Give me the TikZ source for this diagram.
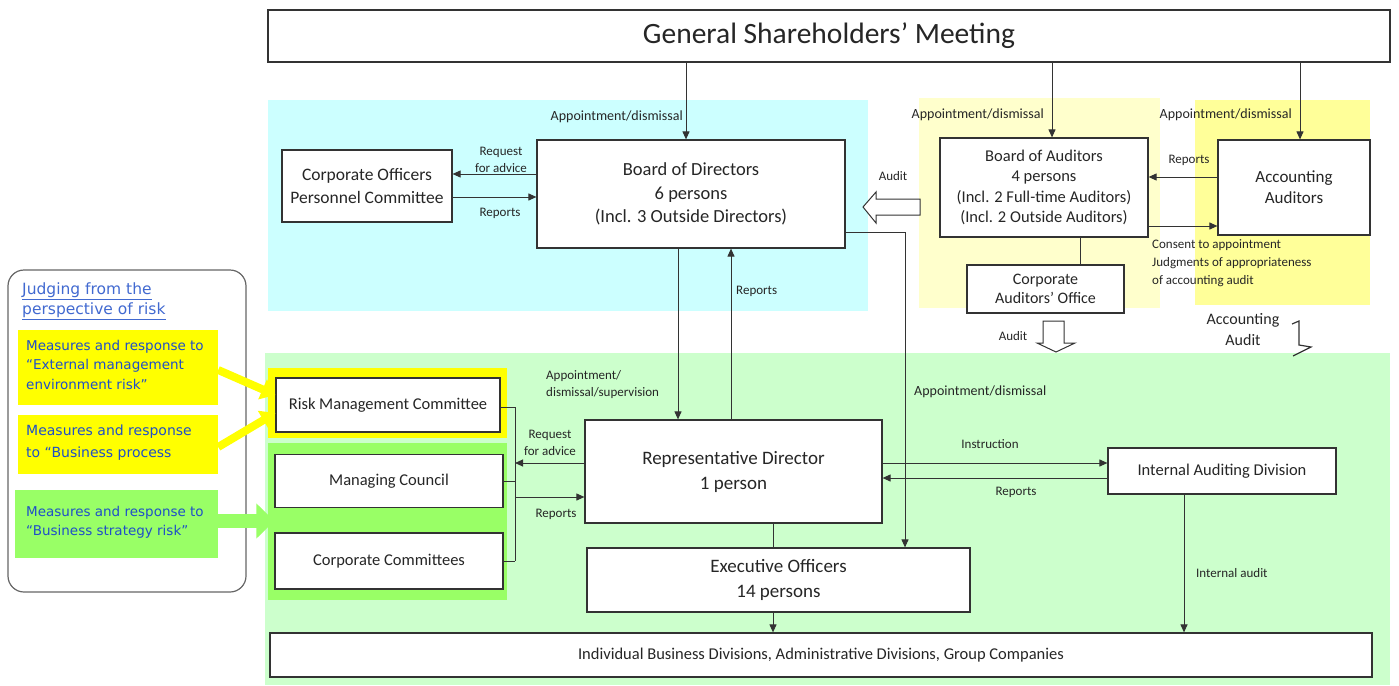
\documentclass[tikz,border=0pt]{standalone}
\usepackage{fontspec}
\setmainfont{Carlito}
\newfontfamily\riskfont{DejaVu Sans}
\usetikzlibrary{arrows.meta,calc}
\definecolor{cyanbg}{HTML}{CCFFFF}
\definecolor{ylight}{HTML}{FFFFCC}
\definecolor{ystrong}{HTML}{FFFF99}
\definecolor{greenbg}{HTML}{CCFFCC}
\definecolor{yhl}{HTML}{FFFF00}
\definecolor{ghl}{HTML}{99FF66}
\definecolor{bluetxt}{HTML}{1F4FC8}
\definecolor{linecol}{HTML}{333333}
\newcommand\fsz[2]{\fontsize{#1}{#2}\selectfont}
\tikzset{
  box/.style={draw=linecol, fill=white, line width=1.2pt, align=center, inner sep=0pt, text=black!85},
  arr/.style={draw=linecol, line width=1pt, -{Triangle[length=8pt,width=7pt]}},
  ln/.style={draw=linecol, line width=1pt},
  lbl/.style={font=\fsz{13}{17}, text=black!85, inner sep=0pt, align=center},
  biglbl/.style={font=\fsz{14}{17}, text=black!85, inner sep=0pt, align=center},
  riskbox/.style={inner sep=0pt, text=bluetxt, font=\riskfont\fsz{13.5}{19.5}, align=left, anchor=north west},
  hollow/.style={draw=linecol, line width=1pt, fill=white},
}
\begin{document}
\begin{tikzpicture}[x=1pt,y=-1pt]
\useasboundingbox (0,0) rectangle (1399,685);
% background regions
\fill[cyanbg] (268,100) rectangle (868,311);
\fill[ylight] (919,98) rectangle (1160,308);
\fill[ystrong] (1195,100) rectangle (1370,305);
\fill[greenbg] (265,353) rectangle (1390,685);
\fill[yhl] (268,368) rectangle (507,438);
\fill[ghl] (268,443) rectangle (507,600);

% nodes
\node[box, minimum width=1122pt, minimum height=52pt, font=\fsz{29.5}{34}] (gsm) at (829,36) {General Shareholders’ Meeting};
\node[box, minimum width=170pt, minimum height=72pt, font=\fsz{17.5}{23}] (copc) at (367,186) {Corporate Officers\\Personnel Committee};
\node[box, minimum width=308pt, minimum height=108pt, font=\fsz{18.5}{23.5}] (bod) at (691,194) {Board of Directors\\6 persons\\(Incl. 3 Outside Directors)};
\node[box, minimum width=208pt, minimum height=99pt, font=\fsz{16.5}{20.5}] (boa) at (1044,187.5) {Board of Auditors\\4 persons\\(Incl. 2 Full-time Auditors)\\(Incl. 2 Outside Auditors)};
\node[box, minimum width=152pt, minimum height=95pt, font=\fsz{17}{21}] (acc) at (1294,187.5) {Accounting\\Auditors};
\node[box, minimum width=157pt, minimum height=48pt, font=\fsz{16}{19}] (cao) at (1045.5,289) {Corporate\\Auditors’ Office};
\node[box, minimum width=224pt, minimum height=54pt, font=\fsz{16.5}{19}] (rmc) at (388,405) {Risk Management Committee};
\node[box, minimum width=228pt, minimum height=53pt, font=\fsz{16.5}{19}] (mc) at (389,481) {Managing Council};
\node[box, minimum width=228pt, minimum height=56pt, font=\fsz{16.5}{19}] (cc) at (389,561) {Corporate Committees};
\node[box, minimum width=297pt, minimum height=103pt, font=\fsz{19}{25}] (rd) at (733.5,471.5) {Representative Director\\1 person};
\node[box, minimum width=383pt, minimum height=64pt, font=\fsz{19}{25}] (eo) at (778.5,580) {Executive Officers\\14 persons};
\node[box, minimum width=1102pt, minimum height=44pt, font=\fsz{16.5}{19}] (div) at (821,655) {Individual Business Divisions, Administrative Divisions, Group Companies};
\node[box, minimum width=228pt, minimum height=46pt, font=\fsz{16.5}{19}] (iad) at (1222,471) {Internal Auditing Division};

% from general meeting
\draw[arr] (686,0 |- gsm.south) -- (686,0 |- bod.north);
\draw[arr] (1052,0 |- gsm.south) -- (1052,0 |- boa.north);
\draw[arr] (1300,0 |- gsm.south) -- (1300,0 |- acc.north);
\node[biglbl, anchor=east] (l1) at (683,117) {Appointment/dismissal};
\node[biglbl, anchor=east] (l2) at (1044,115) {Appointment/dismissal};
\node[biglbl, anchor=east] (l3) at (1292,115) {Appointment/dismissal};

% board of directors <-> corporate officers committee
\draw[arr] (bod.west |- 0,174) -- (copc.east |- 0,174);
\draw[arr] (copc.east |- 0,197) -- (bod.west |- 0,197);
\node[lbl] (l4) at (501,160) {Request\\for advice};
\node[lbl] (l5) at (500,213) {Reports};

% board of directors <-> representative director
\draw[arr] (678,0 |- bod.south) -- (678,0 |- rd.north);
\draw[arr] (731,0 |- rd.north) -- (731,0 |- bod.south);
\node[lbl, align=left, anchor=west] (l6) at (546,385) {Appointment/\\dismissal/supervision};
\node[lbl, anchor=west] (l7) at (736,291) {Reports};

% board of directors -> executive officers
\draw[arr] (bod.east |- 0,232) -- (905,232) -- (905,0 |- eo.north);
\node[biglbl, anchor=west] (l8) at (914,392) {Appointment/dismissal};

% audit hollow arrow (auditors -> directors)
\draw[hollow] (920,199) -- (876,199) -- (876,192) -- (863,207) -- (876,223) -- (876,215) -- (920,215) -- cycle;
\node[lbl] (l9) at (893,176) {Audit};

% auditors <-> accounting auditors
\draw[arr] (acc.west |- 0,177) -- (boa.east |- 0,177);
\draw[arr] (boa.east |- 0,226) -- (acc.west |- 0,226);
\node[lbl] (l10) at (1189,160) {Reports};
\node[lbl, align=left, anchor=north west, font=\fsz{13}{18}] (l11) at (1152,239) {Consent to appointment\\Judgments of appropriateness\\of accounting audit};

% auditors -> office
\draw[ln] (1080,0 |- boa.south) -- (1080,0 |- cao.north);

% audit hollow down arrow
\draw[hollow] (1043,321) -- (1064,321) -- (1064,343) -- (1075,343) -- (1056,352) -- (1037,343) -- (1043,343) -- cycle;
\node[lbl] (l12) at (1013,336) {Audit};

% accounting audit bent arrow
\node[biglbl, font=\fsz{16}{21}] (l13) at (1243,330) {Accounting\\Audit};
\draw[ln, line width=1.2pt] (1292,324) -- (1299,321) -- (1299,345) -- (1311,347) -- (1293,356);

% committees bracket
\draw[ln] (rmc.east |- 0,407) -- (515,407);
\draw[ln] (mc.east) -- (515,0 |- mc.east);
\draw[ln] (cc.east) -- (515,0 |- cc.east);
\draw[ln] (515,407) -- (515,0 |- cc.east);
\draw[arr] (rd.west |- 0,463) -- (515,463);
\draw[arr] (515,497) -- (rd.west |- 0,497);
\node[lbl] (l14) at (550,443) {Request\\for advice};
\node[lbl] (l15) at (556,514) {Reports};

% representative director -> executive officers
\draw[ln] (773,0 |- rd.south) -- (773,0 |- eo.north);
\draw[arr] (773,0 |- eo.south) -- (773,0 |- div.north);

% representative director <-> internal auditing
\draw[arr] (rd.east |- 0,463) -- (iad.west |- 0,463);
\draw[arr] (iad.west |- 0,478) -- (rd.east |- 0,478);
\node[lbl] (l16) at (990,444) {Instruction};
\node[lbl] (l17) at (1016,492) {Reports};
\draw[arr] (1184,0 |- iad.south) -- (1184,0 |- div.north);
\node[lbl, anchor=west] (l18) at (1196,573) {Internal audit};

% left panel
\draw[draw=black!60, line width=1.2pt, rounded corners=16pt] (8,270) rectangle (246,592);
\node[fill=yhl, minimum width=200pt, minimum height=75pt, inner sep=0pt] (y1) at (118,367.5) {};
\node[fill=yhl, minimum width=200pt, minimum height=59pt, inner sep=0pt] (y2) at (118,444.5) {};
\node[fill=ghl, minimum width=203pt, minimum height=68pt, inner sep=0pt] (g1) at (116.5,524) {};
\node[riskbox, text=bluetxt!85, font=\riskfont\fsz{15.5}{20}] (judge) at (22,283) {\underline{Judging from the}\\\underline{perspective of risk}};
\node[riskbox] (t1) at (26,340) {Measures and response to\\“External management\\environment risk”};
\node[riskbox, font=\riskfont\fsz{14}{22}] (t2) at (26,425) {Measures and response\\to “Business process};
\node[riskbox] (t3) at (26,506) {Measures and response to\\“Business strategy risk”};

% fat arrows
\draw[yhl, line width=8pt, -{Triangle[length=14pt,width=21pt]}] (y1.east |- 0,370) -- (rmc.west |- 0,395);
\draw[yhl, line width=8pt, -{Triangle[length=14pt,width=21pt]}] (y2.east |- 0,447) -- (rmc.west |- 0,413);
\draw[ghl, line width=14pt, -{Triangle[length=18pt,width=34pt]}] (g1.east |- 0,521) -- (mc.west |- 0,521);
\end{tikzpicture}
\end{document}
